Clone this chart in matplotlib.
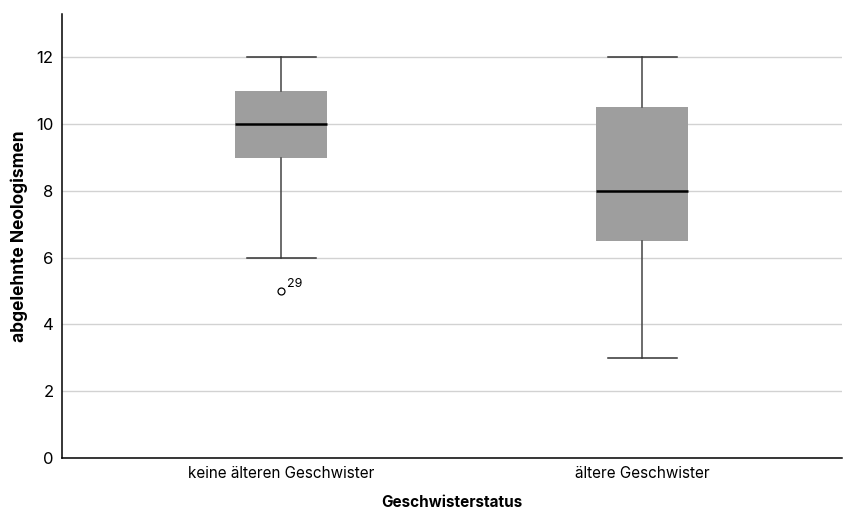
import matplotlib.pyplot as plt

plt.rcParams['font.family'] = ['Inter', 'DejaVu Sans']

# Boxplot summary per group: whisker low, Q1, median, Q3, whisker high
groups = ["keine älteren Geschwister", "ältere Geschwister"]
whisker_low = [6, 3]
q1 = [9, 6.5]
medians = [10, 8]
q3 = [11, 10.5]
whisker_high = [12, 12]
outliers = [[5], []]
outlier_ids = [["29"], []]

stats = []
for i, name in enumerate(groups):
    stats.append({
        "label": name,
        "whislo": whisker_low[i],
        "q1": q1[i],
        "med": medians[i],
        "q3": q3[i],
        "whishi": whisker_high[i],
        "fliers": outliers[i],
    })

fig = plt.figure(figsize=(8.54, 5.12), dpi=100)
ax = fig.add_axes([0.0726, 0.1055, 0.9134, 0.8672])

positions = [1, 2]
ax.bxp(stats, positions=positions, widths=0.255, patch_artist=True,
       capwidths=0.19,
       boxprops=dict(facecolor="#9e9e9e", edgecolor="none"),
       medianprops=dict(color="black", linewidth=1.8),
       whiskerprops=dict(color="#444444", linewidth=1.1),
       capprops=dict(color="#333333", linewidth=1.1),
       flierprops=dict(marker="o", markersize=5, markerfacecolor="white",
                       markeredgecolor="black", markeredgewidth=0.9))

# case numbers next to the outliers
for pos, vals, ids in zip(positions, outliers, outlier_ids):
    for v, label in zip(vals, ids):
        ax.annotate(label, (pos, v), xytext=(4, 3), textcoords="offset points",
                    fontsize=9)

ax.set_xlim(0.393, 2.553)
ax.set_ylim(0, 13.3)
ax.set_yticks([0, 2, 4, 6, 8, 10, 12])
ax.yaxis.grid(True, color="#d2d2d2", linewidth=1)
ax.set_axisbelow(True)
ax.tick_params(length=0, labelsize=12, pad=6)
ax.tick_params(axis="x", labelsize=11, pad=6)

for side in ["top", "right"]:
    ax.spines[side].set_visible(False)
ax.spines["left"].set_linewidth(1.1)
ax.spines["bottom"].set_linewidth(1.1)

ax.set_ylabel("abgelehnte Neologismen", fontsize=12.5, fontweight="bold", labelpad=6)
ax.set_xlabel("Geschwisterstatus", fontsize=11, fontweight="bold", labelpad=10)

fig.savefig("out.png", dpi=100)
